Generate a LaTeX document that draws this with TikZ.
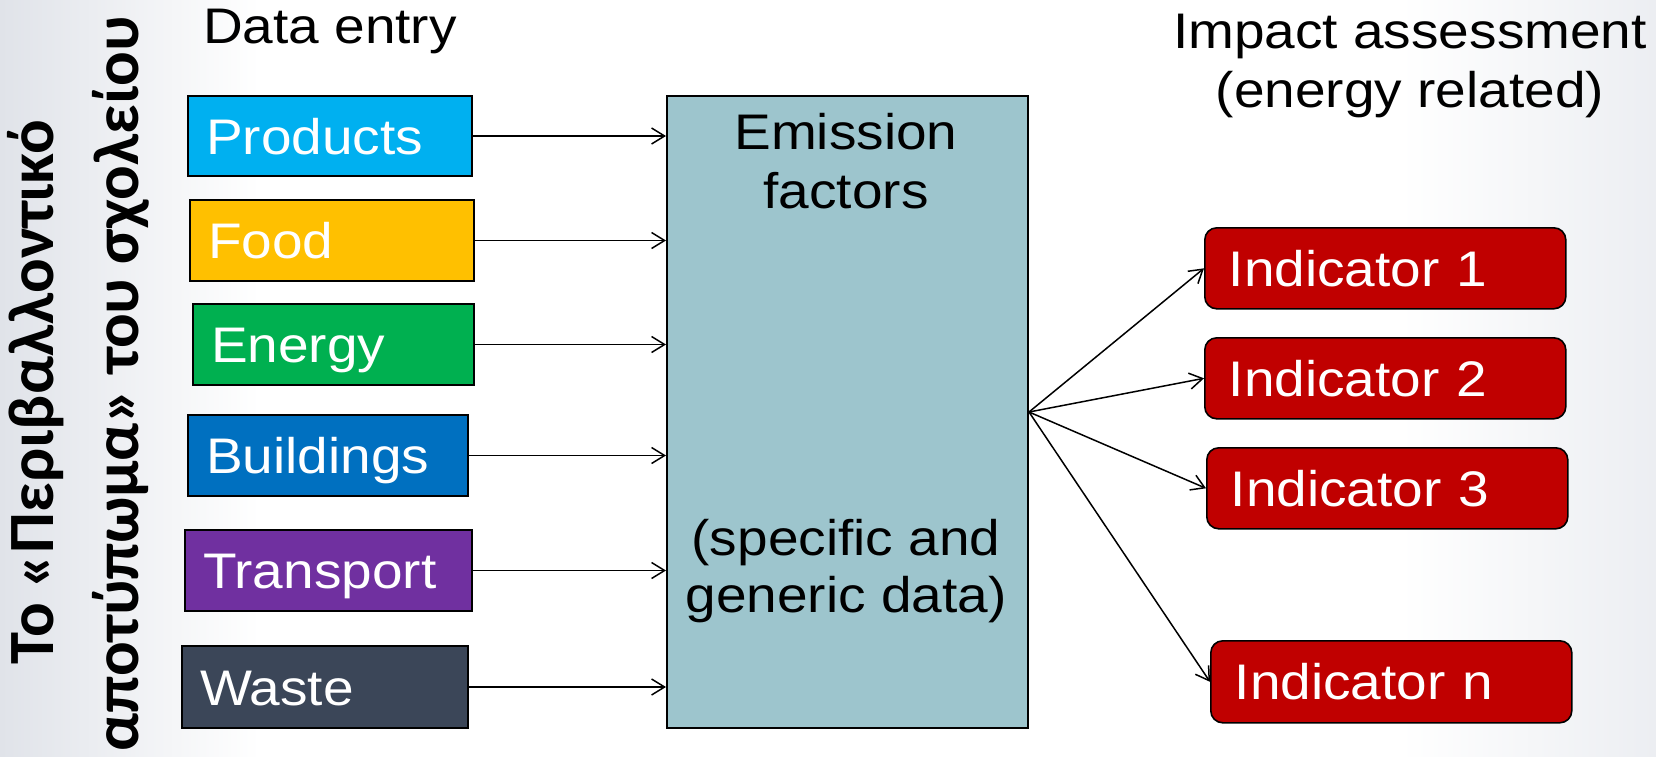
\documentclass[tikz,border=0pt]{standalone}
\usepackage{fontspec}
\setmainfont{Liberation Sans}[FakeStretch=1.10]
\newfontfamily\greekfont{Carlito}
\usetikzlibrary{arrows.meta}
\definecolor{cProducts}{RGB}{0,176,240}
\definecolor{cFood}{RGB}{255,192,0}
\definecolor{cEnergy}{RGB}{0,176,80}
\definecolor{cBuild}{RGB}{0,112,192}
\definecolor{cTrans}{RGB}{112,48,160}
\definecolor{cWaste}{RGB}{59,70,88}
\definecolor{cEmis}{RGB}{157,197,205}
\definecolor{cInd}{RGB}{192,0,0}
\definecolor{bgL}{RGB}{224,227,233}
\definecolor{bgR}{RGB}{236,238,242}
\begin{document}
\begin{tikzpicture}[x=0.5pt,y=-0.5pt,
  txt/.style={font=\fontsize{25}{30}\selectfont, text=black, inner sep=0pt},
  databox/.style={draw=black, line width=1pt, anchor=north west, inner xsep=9pt, inner ysep=0pt,
    align=left, text=white, font=\fontsize{25}{30}\selectfont, text height=18pt, text depth=0pt,
    minimum height=40pt},
  indbox/.style={draw=black, line width=0.8pt, fill=cInd, rounded corners=6pt, anchor=north west,
    inner xsep=12pt, inner ysep=0pt, align=left, text=white, font=\fontsize{25}{30}\selectfont,
    text height=18pt, text depth=0pt, text width=156.5pt, minimum height=40.5pt},
  arr/.style={draw=black, line width=0.75pt, -{Straight Barb[length=6.5pt,width=8pt]}},
  greek/.style={rotate=90, anchor=base, inner sep=0pt, font=\greekfont\bfseries\fontsize{32.3}{39}\selectfont}
]
\useasboundingbox (0,0) rectangle (1656,756);
\fill[white] (0,0) rectangle (1656,756);
\shade[left color=bgL, right color=white] (0,0) rectangle (260,756);
\shade[left color=white, right color=bgR] (1400,0) rectangle (1656,756);

% headings
\node[txt, anchor=base] (hdata) at (330,43) {Data entry};
\node[txt, anchor=base] (himp1) at (1410,48) {Impact assessment};
\node[txt, anchor=base] (himp2) at (1410,107) {(energy related)};

% vertical Greek title
\node[greek] (g1) at (54,392) {Το «Περιβαλλοντικό};
\node[greek] (g2) at (138,384) {αποτύπωμα» του σχολείου};

% data entry boxes
\node[databox, fill=cProducts, text width=124pt] (products) at (187,95) {Products};
\node[databox, fill=cFood, text width=124pt, minimum height=40.5pt] (food) at (189,199) {Food};
\node[databox, fill=cEnergy, text width=122.5pt, minimum height=40.5pt] (energy) at (192,303) {Energy};
\node[databox, fill=cBuild, text width=122pt, minimum height=40.5pt] (buildings) at (187,414) {Buildings};
\node[databox, fill=cTrans, text width=125.5pt, minimum height=40.5pt] (transport) at (184,529) {Transport};
\node[databox, fill=cWaste, text width=125pt, minimum height=41pt] (waste) at (181,645) {Waste};

% emission factors box
\node[draw=black, line width=1pt, fill=cEmis, anchor=north west, minimum width=180.5pt,
  minimum height=316pt, inner sep=0pt] (emission) at (666,95) {};
\node[txt, anchor=base] (e1) at (846,149) {Emission};
\node[txt, anchor=base] (e2) at (846,208) {factors};
\node[txt, anchor=base] (e3) at (846,555) {(specific and};
\node[txt, anchor=base] (e4) at (846,612) {generic data)};

% indicators
\node[indbox] (ind1) at (1204,227) {Indicator 1};
\node[indbox] (ind2) at (1204,337) {Indicator 2};
\node[indbox] (ind3) at (1206,447) {Indicator 3};
\node[indbox, minimum height=41pt] (indn) at (1210,640) {Indicator n};

% connectors
\foreach \n in {products,food,energy,buildings,transport,waste}
  \draw[arr] (\n.east) -- (\n.east -| emission.west);
\foreach \n in {ind1,ind2,ind3,indn}
  \draw[arr] (emission.east) -- (\n.west);
\end{tikzpicture}
\end{document}
